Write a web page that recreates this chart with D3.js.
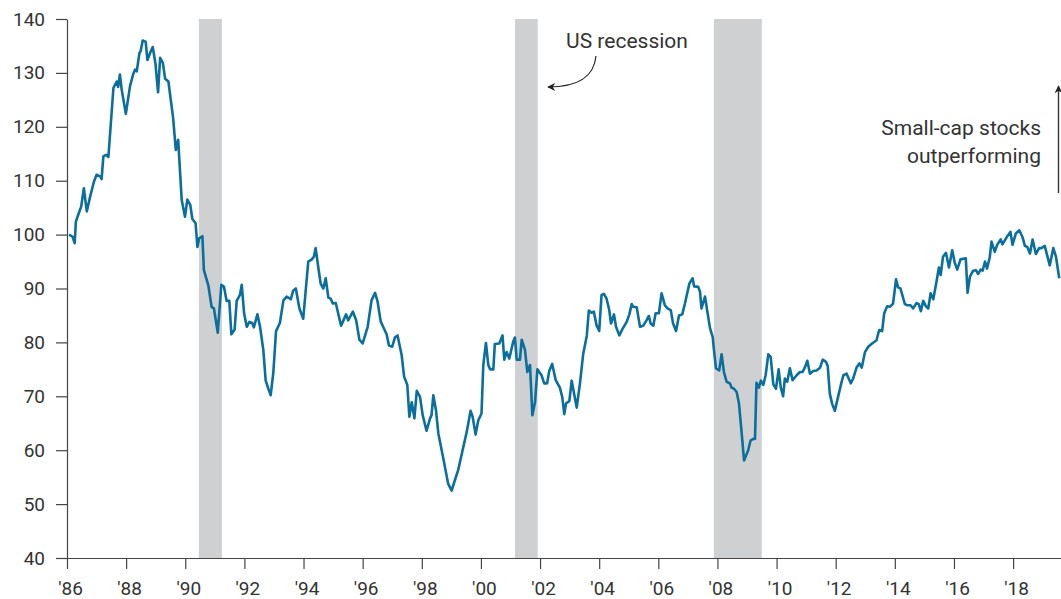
<!DOCTYPE html>
<html>
<head>
<meta charset="utf-8">
<script src="https://cdn.jsdelivr.net/npm/d3@7"></script>
<style>
  body { margin: 0; background: #fff; }
  svg text { font-family: Roboto, "Open Sans", sans-serif; fill: #333; }
</style>
</head>
<body>
<div id="chart"></div>
<script>
// small-cap vs large-cap relative index (decimal years)
const dates = [
  1986.07, 1986.19, 1986.26, 1986.30, 1986.40, 1986.48, 1986.57, 1986.67, 1986.78, 1986.91,
  1987.00, 1987.12, 1987.17, 1987.23, 1987.32, 1987.40, 1987.57, 1987.68, 1987.73, 1987.79,
  1987.85, 1987.99, 1988.13, 1988.24, 1988.30, 1988.36, 1988.45, 1988.49, 1988.56, 1988.66,
  1988.72, 1988.81, 1988.90, 1988.99, 1989.08, 1989.15, 1989.24, 1989.32, 1989.43, 1989.59,
  1989.68, 1989.76, 1989.88, 1989.99, 1990.07, 1990.17, 1990.24, 1990.35, 1990.41, 1990.47,
  1990.58, 1990.63, 1990.78, 1990.89, 1990.97, 1991.10, 1991.22, 1991.31, 1991.40, 1991.49,
  1991.56, 1991.67, 1991.74, 1991.85, 1991.91, 1991.99, 1992.08, 1992.17, 1992.26, 1992.32,
  1992.44, 1992.53, 1992.64, 1992.72, 1992.81, 1992.89, 1992.98, 1993.07, 1993.20, 1993.32,
  1993.43, 1993.57, 1993.65, 1993.74, 1993.86, 1993.99, 1994.16, 1994.28, 1994.35, 1994.41,
  1994.50, 1994.58, 1994.67, 1994.75, 1994.84, 1994.92, 1994.99, 1995.09, 1995.27, 1995.44,
  1995.51, 1995.67, 1995.78, 1995.89, 1996.00, 1996.17, 1996.30, 1996.42, 1996.50, 1996.61,
  1996.70, 1996.81, 1996.89, 1997.00, 1997.09, 1997.18, 1997.32, 1997.40, 1997.51, 1997.58,
  1997.66, 1997.75, 1997.83, 1997.94, 1998.03, 1998.16, 1998.28, 1998.33, 1998.39, 1998.48,
  1998.56, 1998.73, 1998.89, 1999.01, 1999.10, 1999.23, 1999.38, 1999.52, 1999.65, 1999.72,
  1999.82, 1999.91, 2000.02, 2000.08, 2000.17, 2000.25, 2000.31, 2000.42, 2000.47, 2000.62,
  2000.73, 2000.79, 2000.87, 2000.96, 2001.04, 2001.09, 2001.15, 2001.21, 2001.32, 2001.38,
  2001.49, 2001.57, 2001.66, 2001.74, 2001.83, 2001.91, 2002.05, 2002.14, 2002.24, 2002.31,
  2002.41, 2002.53, 2002.67, 2002.75, 2002.82, 2002.88, 2002.99, 2003.07, 2003.15, 2003.24,
  2003.35, 2003.46, 2003.58, 2003.65, 2003.74, 2003.82, 2003.91, 2004.00, 2004.08, 2004.16,
  2004.25, 2004.34, 2004.40, 2004.50, 2004.57, 2004.68, 2004.79, 2004.93, 2005.02, 2005.10,
  2005.15, 2005.27, 2005.38, 2005.49, 2005.60, 2005.68, 2005.74, 2005.83, 2005.91, 2006.02,
  2006.11, 2006.22, 2006.31, 2006.42, 2006.50, 2006.60, 2006.70, 2006.81, 2006.90, 2007.05,
  2007.16, 2007.21, 2007.35, 2007.41, 2007.46, 2007.58, 2007.65, 2007.75, 2007.84, 2007.88,
  2007.95, 2008.06, 2008.14, 2008.22, 2008.31, 2008.42, 2008.48, 2008.56, 2008.65, 2008.73,
  2008.82, 2008.90, 2008.96, 2009.04, 2009.12, 2009.21, 2009.27, 2009.32, 2009.40, 2009.47,
  2009.55, 2009.63, 2009.72, 2009.80, 2009.89, 2009.98, 2010.07, 2010.14, 2010.22, 2010.28,
  2010.36, 2010.45, 2010.54, 2010.68, 2010.79, 2010.88, 2010.96, 2011.04, 2011.13, 2011.24,
  2011.35, 2011.47, 2011.56, 2011.67, 2011.73, 2011.80, 2011.88, 2011.97, 2012.08, 2012.20,
  2012.26, 2012.37, 2012.51, 2012.59, 2012.71, 2012.80, 2012.88, 2012.99, 2013.10, 2013.23,
  2013.38, 2013.47, 2013.57, 2013.64, 2013.74, 2013.83, 2013.94, 2014.04, 2014.11, 2014.19,
  2014.34, 2014.42, 2014.53, 2014.62, 2014.73, 2014.81, 2014.88, 2014.96, 2015.05, 2015.13,
  2015.21, 2015.30, 2015.41, 2015.49, 2015.55, 2015.63, 2015.73, 2015.83, 2015.94, 2016.03,
  2016.11, 2016.22, 2016.40, 2016.46, 2016.54, 2016.65, 2016.74, 2016.82, 2016.90, 2016.97,
  2017.05, 2017.12, 2017.21, 2017.27, 2017.38, 2017.46, 2017.58, 2017.64, 2017.78, 2017.91,
  2017.98, 2018.09, 2018.21, 2018.32, 2018.40, 2018.48, 2018.57, 2018.66, 2018.77, 2018.88,
  2018.96, 2019.07, 2019.15, 2019.24, 2019.36, 2019.45, 2019.56
];
const values = [
  100.0, 99.6, 98.4, 102.4, 104.0, 105.2, 108.6, 104.3, 107.0, 109.8,
  111.1, 110.8, 110.3, 114.5, 114.8, 114.4, 127.2, 128.4, 127.4, 129.7,
  126.9, 122.4, 127.5, 129.8, 130.6, 130.3, 133.7, 134.0, 136.0, 135.8,
  132.4, 133.7, 134.8, 131.8, 126.4, 132.8, 131.9, 128.9, 128.4, 121.6,
  115.7, 117.6, 106.4, 103.3, 106.5, 105.5, 102.9, 102.1, 97.7, 99.3,
  99.7, 93.4, 90.6, 86.6, 86.3, 81.8, 90.7, 90.3, 87.7, 87.7,
  81.5, 82.4, 87.7, 88.8, 90.7, 85.4, 82.9, 83.8, 83.6, 82.8,
  85.2, 82.9, 78.6, 72.9, 71.4, 70.2, 74.5, 82.1, 83.6, 87.8,
  88.5, 88.0, 89.6, 90.0, 86.3, 84.4, 95.0, 95.4, 95.9, 97.5,
  93.9, 90.9, 90.0, 91.9, 88.3, 88.1, 87.2, 87.3, 83.1, 85.2,
  84.1, 85.7, 84.1, 80.5, 79.8, 82.9, 87.8, 89.2, 87.7, 83.9,
  82.8, 81.5, 79.4, 79.2, 80.9, 81.3, 77.6, 73.7, 72.1, 66.2,
  68.9, 65.9, 71.0, 69.9, 66.5, 63.6, 65.9, 66.5, 70.2, 67.4,
  63.1, 58.4, 53.8, 52.5, 54.1, 56.3, 60.0, 63.4, 67.3, 66.2,
  62.9, 65.5, 66.8, 75.8, 79.9, 75.8, 75.0, 75.0, 79.7, 79.8,
  81.3, 76.8, 78.2, 77.0, 78.9, 80.1, 80.9, 76.8, 76.8, 80.5,
  78.6, 74.5, 75.8, 66.5, 68.9, 75.0, 73.9, 72.4, 72.4, 74.7,
  76.0, 73.0, 71.6, 69.9, 66.7, 68.7, 69.1, 72.9, 70.5, 67.9,
  72.4, 77.9, 81.2, 85.9, 85.5, 85.7, 83.2, 82.1, 88.8, 89.0,
  88.1, 86.0, 83.5, 85.2, 82.9, 81.3, 82.5, 83.8, 85.2, 87.1,
  86.6, 86.5, 82.9, 83.1, 84.1, 84.9, 83.5, 83.1, 85.4, 85.4,
  89.1, 86.9, 86.3, 86.0, 83.5, 82.1, 85.0, 85.2, 87.2, 90.9,
  91.9, 90.4, 90.3, 89.4, 86.3, 88.5, 86.0, 82.6, 81.0, 78.7,
  75.2, 74.8, 77.8, 74.5, 72.7, 72.4, 71.6, 71.4, 70.8, 68.6,
  63.1, 58.1, 58.9, 60.0, 61.8, 62.1, 62.1, 72.5, 71.6, 72.9,
  72.1, 73.9, 77.8, 77.3, 72.2, 71.4, 75.0, 71.7, 70.0, 73.3,
  72.7, 75.2, 73.0, 73.9, 74.5, 74.5, 75.4, 76.6, 74.2, 74.7,
  74.8, 75.3, 76.8, 76.4, 75.6, 70.5, 68.6, 67.3, 69.9, 72.7,
  73.9, 74.2, 72.4, 73.3, 75.4, 76.1, 75.3, 78.2, 79.2, 79.8,
  80.4, 82.3, 82.1, 85.4, 86.7, 86.6, 87.2, 91.7, 90.2, 90.0,
  87.1, 86.9, 86.9, 86.3, 87.3, 87.1, 85.8, 87.7, 86.7, 86.3,
  89.1, 88.0, 91.3, 93.9, 92.5, 95.9, 96.6, 93.9, 97.1, 94.7,
  93.5, 95.4, 95.6, 89.2, 92.2, 93.3, 93.4, 92.7, 93.5, 93.3,
  95.0, 93.7, 95.8, 98.7, 96.8, 98.1, 99.1, 98.2, 99.5, 100.5,
  98.1, 100.2, 100.8, 99.5, 97.9, 97.7, 96.5, 99.1, 96.4, 97.5,
  97.5, 97.9, 96.2, 94.3, 97.5, 95.9, 91.9
];

// US recessions (shaded)
const recessionStart = [1990.46, 2001.15, 2007.88];
const recessionEnd = [1991.24, 2001.92, 2009.50];

const xTicks = d3.range(1986, 2019, 2);
const yTicks = d3.range(40, 141, 10);

const width = 1061;
const height = 599;
const margin = { top: 19, right: 0, bottom: 41, left: 67 };

const svg = d3.select('#chart').append('svg')
  .attr('width', width)
  .attr('height', height);

const x = d3.scaleLinear()
  .domain([1986, 2019.62])
  .range([margin.left, width - margin.right]);

const y = d3.scaleLinear()
  .domain([40, 140])
  .range([height - margin.bottom, margin.top]);

// recession bands
svg.append('g')
  .selectAll('rect')
  .data(recessionStart).enter()
    .append('rect')
    .attr('x', d => x(d))
    .attr('width', (d, i) => x(recessionEnd[i]) - x(d))
    .attr('y', y(140))
    .attr('height', y(40) - y(140))
    .attr('fill', '#cfd0d2');

// axes
const xAxis = svg.append('g')
  .attr('transform', `translate(0, ${y(40)})`)
  .call(d3.axisBottom(x)
    .tickValues(xTicks)
    .tickSize(11)
    .tickSizeOuter(0)
    .tickPadding(13)
    .tickFormat(d => "'" + String(d).slice(2)));

const yAxis = svg.append('g')
  .attr('transform', `translate(${margin.left}, 0)`)
  .call(d3.axisLeft(y)
    .tickValues(yTicks)
    .tickSize(11)
    .tickSizeOuter(0)
    .tickPadding(11));

[xAxis, yAxis].forEach(g => {
  g.select('.domain').attr('stroke', '#444').attr('stroke-width', 1.2);
  g.selectAll('.tick line').attr('stroke', '#444').attr('stroke-width', 1.2);
  g.selectAll('.tick text')
    .attr('font-size', 19)
    .attr('font-family', 'Roboto, "Open Sans", sans-serif')
    .attr('fill', '#333');
});
xAxis.selectAll('.tick text').attr('dx', 3);

// the series
const line = d3.line()
  .x((d, i) => x(dates[i]))
  .y(d => y(d));

svg.append('path')
  .datum(values)
  .attr('d', line)
  .attr('fill', 'none')
  .attr('stroke', '#0b6f9d')
  .attr('stroke-width', 2.6)
  .attr('stroke-linejoin', 'round');

// annotations
const defs = svg.append('defs');
defs.append('marker')
  .attr('id', 'head')
  .attr('viewBox', '0 0 10 10')
  .attr('refX', 9)
  .attr('refY', 5)
  .attr('markerWidth', 8)
  .attr('markerHeight', 8)
  .attr('markerUnits', 'userSpaceOnUse')
  .attr('orient', 'auto')
  .append('path')
    .attr('d', 'M0,0 L10,5 L0,10 L3,5 Z')
    .attr('fill', '#222');

svg.append('text')
  .attr('x', 627)
  .attr('y', 48)
  .attr('text-anchor', 'middle')
  .attr('font-size', 21)
  .text('US recession');

svg.append('path')
  .attr('d', 'M596,56 C594,76 580,87 548,87')
  .attr('fill', 'none')
  .attr('stroke', '#222')
  .attr('stroke-width', 1.2)
  .attr('marker-end', 'url(#head)');

const note = svg.append('text')
  .attr('text-anchor', 'end')
  .attr('font-size', 21);
note.append('tspan').attr('x', 1041).attr('y', 135).text('Small-cap stocks');
note.append('tspan').attr('x', 1041).attr('y', 163).text('outperforming');

svg.append('line')
  .attr('x1', 1058.5).attr('x2', 1058.5)
  .attr('y1', 193).attr('y2', 86)
  .attr('stroke', '#333')
  .attr('stroke-width', 1.4)
  .attr('marker-end', 'url(#head)');
</script>
</body>
</html>
